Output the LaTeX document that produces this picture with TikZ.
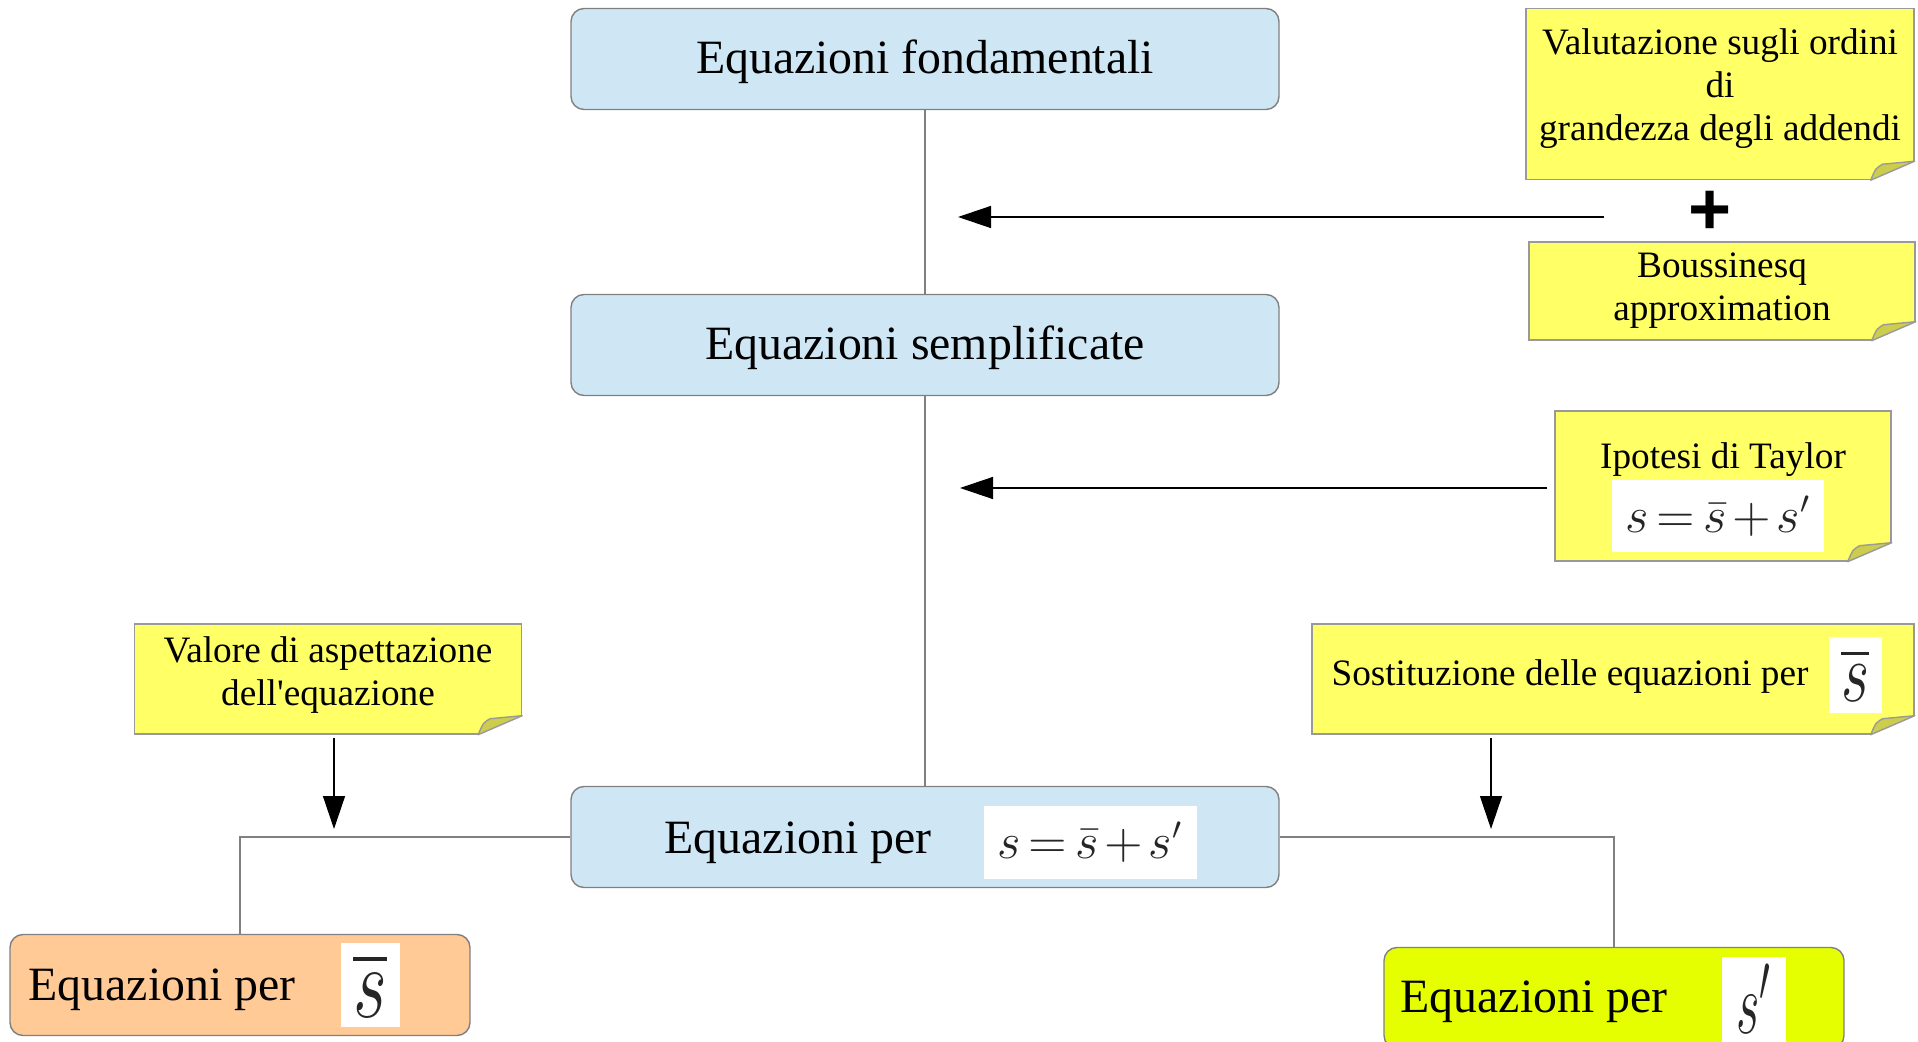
\documentclass[tikz,border=0pt]{standalone}
\usepackage{amsmath}
\usepackage{fontspec}
\setmainfont{Liberation Serif}
\newfontfamily\plainserif[Ligatures=TeXOff]{Liberation Serif}
\newfontfamily\plusfont{Liberation Sans}
\usepackage{tikz}
\usetikzlibrary{shapes,arrows.meta}
\definecolor{boxblue}{HTML}{CFE7F5}
\definecolor{boxorange}{HTML}{FFCA96}
\definecolor{boxgreen}{HTML}{E6FF00}
\definecolor{noteyellow}{HTML}{FFFF66}
\definecolor{notefold}{HTML}{CCCC4D}
\definecolor{linegray}{HTML}{808080}
\tikzset{eq/.style={rectangle,rounded corners=1.3mm,draw=linegray,fill=boxblue,minimum width=70.8mm,minimum height=10.1mm,text height=11pt,text depth=3pt,font=\fontsize{13.6}{16}\selectfont}}
\tikzset{txt/.style={inner sep=0,font=\fontsize{13.6}{16}\selectfont}}
\tikzset{note/.style={rectangle,draw=linegray!80,fill=noteyellow,align=center,inner sep=0,font=\fontsize{10.6}{12.3}\selectfont}}
\tikzset{ntxt/.style={inner sep=0,font=\fontsize{10.6}{12.3}\selectfont}}
\tikzset{mbox/.style={rectangle,fill=white,inner sep=0,text=black!85}}
\tikzset{link/.style={draw=linegray,line width=0.13mm}}
\tikzset{push/.style={-{Triangle[length=3.3mm,width=2.2mm]},line width=0.14mm}}
\newcommand{\notecorner}[1]{%
  \fill[white] ([xshift=-4.4mm]#1.south east) -- ([xshift=-4.4mm,yshift=-0.5mm]#1.south east) -- ([xshift=0.5mm,yshift=-0.5mm]#1.south east) -- ([xshift=0.5mm,yshift=1.9mm]#1.south east) -- ([yshift=1.9mm]#1.south east) -- cycle;
  \draw[linegray!80,fill=notefold,line join=round] ([xshift=-4.4mm]#1.south east) .. controls ([xshift=-3.9mm,yshift=1.2mm]#1.south east) .. ([xshift=-3.2mm,yshift=1.6mm]#1.south east) -- ([yshift=1.9mm]#1.south east) -- cycle;
}
\newcommand{\seq}{\fontsize{13.5}{15}\selectfont\thickmuskip=3mu\medmuskip=2mu$s=\bar{s}+s'$}

\begin{document}
\begin{tikzpicture}[x=0.1mm,y=-0.1mm]
        \useasboundingbox (0,0) rectangle (1918,1042);

        \node[eq] (a)at (925,59) {Equazioni fondamentali};
        \node[eq] (b)at (925,345) {Equazioni semplificate};
        \node[eq] (c)at (925,837) {};
        \node[eq,fill=boxorange,minimum width=46mm] (d)at (240,985) {};
        \node[eq,fill=boxgreen,minimum width=46mm] (e)at (1614,998) {};

        \node[txt] (ct)at (798,843) {Equazioni per};
        \node[txt] (dt)at (162,990) {Equazioni per};
        \node[txt] (et)at (1534,1002) {Equazioni per};
        \node[mbox,minimum width=21.3mm,minimum height=7.3mm] (cm)at (1090,842) {\seq};
        \node[mbox,minimum width=5.9mm,minimum height=8.4mm] (dm)at (370,985) {\scalebox{1}[1.4]{\fontsize{20}{24}\selectfont$\overline{s}$}};
        \node[mbox,minimum width=6.4mm,minimum height=8.5mm] (em)at (1754,999) {\scalebox{1}[1.75]{\fontsize{15}{18}\selectfont$s'$}};

        % notes
        \node[note,minimum width=38.8mm,minimum height=17.1mm,text depth=5.3pt] (n1)at (1720,94) {Valutazione sugli ordini\\di\\grandezza degli addendi};
        \node[note,minimum width=38.6mm,minimum height=9.8mm,text depth=2.6pt] (n2)at (1722,291) {Boussinesq\\approximation};
        \node[note,minimum width=33.6mm,minimum height=15mm] (n3)at (1723,486) {};
        \node[note,minimum width=38.7mm,minimum height=11mm,text depth=4.3pt] (n4)at (328,679) {Valore di aspettazione\\dell{\plainserif'}equazione};
        \node[note,minimum width=60.2mm,minimum height=11mm] (n5)at (1613,679) {};
        \notecorner{n1}
        \notecorner{n2}
        \notecorner{n3}
        \notecorner{n4}
        \notecorner{n5}
        \node[ntxt] (n3t)at (1723,460) {Ipotesi di Taylor};
        \node[mbox,minimum width=21.2mm,minimum height=7.2mm] (n3m)at (1718,516) {\seq};
        \node[ntxt] (n5t)at (1570,677) {Sostituzione delle equazioni per};
        \node[mbox,minimum width=5.3mm,minimum height=7.6mm] (n5m)at (1855,675) {\scalebox{1}[1.4]{\fontsize{17.6}{20}\selectfont$\overline{s}$}};
        \node[font=\plusfont\bfseries\fontsize{21}{24}\selectfont] (plus)at (1710,213) {+};

        \draw [link] (a) to (b);
        \draw [link] (b) to (c);
        \draw [link] (c.west) -| (d.north);
        \draw [link] (c.east) -| (e.north);

        \coordinate (p1)at (1604,217);
        \coordinate (q1)at (958,217);
        \coordinate (p2)at (1547,488);
        \coordinate (q2)at (960,488);
        \coordinate (p3)at (334,738);
        \coordinate (q3)at (334,829);
        \coordinate (p4)at (1491,738);
        \coordinate (q4)at (1491,829);
        \draw [push] (p1) to (q1);
        \draw [push] (p2) to (q2);
        \draw [push] (p3) to (q3);
        \draw [push] (p4) to (q4);
    \end{tikzpicture}
\end{document}
